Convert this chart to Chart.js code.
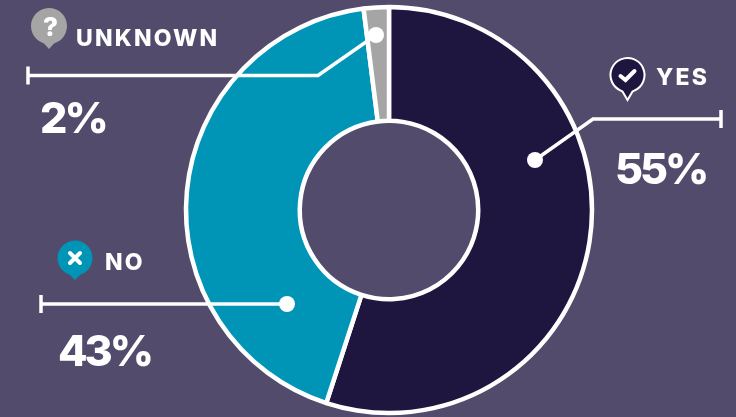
<!DOCTYPE html>
<html>
<head>
<meta charset="utf-8">
<title>Yes / No / Unknown</title>
<script src="https://cdn.jsdelivr.net/npm/chart.js@4"></script>
<style>
    html, body { margin: 0; padding: 0; background: #524b6b; }
    #wrap { width: 736px; height: 417px; }
</style>
</head>
<body>
<div id="wrap"><canvas id="answersChart"></canvas></div>
<script>
const categories = ['YES', 'NO', 'UNKNOWN'];
const shares = [55, 43, 2];
const sliceColors = ['#1e163f', '#0095b6', '#a5a5a5'];

const FONT = 'Inter, "Open Sans", sans-serif';
const WHITE = '#ffffff';

// callout layout, one per category
const callouts = [
    {
        path: [[535, 160], [593, 119], [721, 119]], tickX: 721, tickY: 119,
        icon: { x: 627.5, y: 75, r: 17, tail: 100, fill: '#1e163f', stroke: WHITE, glyph: 'check' },
        name: { x: 656, y: 85 }, pct: { x: 615, y: 184 }
    },
    {
        path: [[287, 304], [41, 304]], tickX: 41, tickY: 304,
        icon: { x: 75, y: 258, r: 17.5, tail: 280, fill: '#0095b6', glyph: 'cross' },
        name: { x: 105, y: 270 }, pct: { x: 58, y: 366 }
    },
    {
        path: [[376, 35], [318, 75.5], [28, 75.5]], tickX: 28, tickY: 75.5,
        icon: { x: 49, y: 26, r: 18, tail: 49, fill: '#a5a5a5', glyph: 'question' },
        name: { x: 76, y: 46 }, pct: { x: 40, y: 133 }
    }
];

function drawBubble(c, icon) {
    c.beginPath();
    c.arc(icon.x, icon.y, icon.r, Math.PI * 0.62, Math.PI * 0.38);
    c.lineTo(icon.x + 5, icon.y + icon.r - 0.5);
    c.lineTo(icon.x, icon.tail);
    c.lineTo(icon.x - 5, icon.y + icon.r - 0.5);
    c.closePath();
    c.fillStyle = icon.fill;
    c.fill();
    if (icon.stroke) {
        c.strokeStyle = icon.stroke;
        c.lineWidth = 2;
        c.stroke();
    }
}

function drawGlyph(c, icon) {
    const x = icon.x, y = icon.y;
    c.strokeStyle = WHITE;
    c.fillStyle = WHITE;
    c.lineWidth = 4;
    c.lineCap = 'round';
    c.lineJoin = 'miter';
    c.beginPath();
    if (icon.glyph === 'check') {
        c.moveTo(x - 7, y + 1);
        c.lineTo(x - 2, y + 5);
        c.lineTo(x + 7, y - 4);
        c.stroke();
    } else if (icon.glyph === 'cross') {
        c.moveTo(x - 5, y - 5);
        c.lineTo(x + 5, y + 5);
        c.moveTo(x + 5, y - 5);
        c.lineTo(x - 5, y + 5);
        c.stroke();
    } else {
        c.font = '800 26px ' + FONT;
        c.textAlign = 'center';
        c.textBaseline = 'alphabetic';
        c.fillText('?', x, y + 10);
    }
    c.lineCap = 'butt';
}

// leader lines, dots, bubbles and text sit on top of the doughnut
const calloutPlugin = {
    id: 'callouts',
    afterDatasetsDraw(chart) {
        const c = chart.ctx;
        c.save();
        callouts.forEach((item, i) => {
            c.strokeStyle = WHITE;
            c.lineWidth = 3.5;
            c.beginPath();
            item.path.forEach((p, n) => n ? c.lineTo(p[0], p[1]) : c.moveTo(p[0], p[1]));
            c.stroke();

            c.beginPath();
            c.moveTo(item.tickX, item.tickY - 9);
            c.lineTo(item.tickX, item.tickY + 9);
            c.stroke();

            c.fillStyle = WHITE;
            c.beginPath();
            c.arc(item.path[0][0], item.path[0][1], 8, 0, Math.PI * 2);
            c.fill();

            drawBubble(c, item.icon);
            drawGlyph(c, item.icon);

            c.fillStyle = WHITE;
            c.textAlign = 'left';
            c.textBaseline = 'alphabetic';
            c.font = '800 23px ' + FONT;
            c.letterSpacing = '2.2px';
            c.fillText(categories[i], item.name.x, item.name.y);
            c.font = '800 43px ' + FONT;
            c.letterSpacing = '-3px';
            c.fillText(shares[i] + '%', item.pct.x, item.pct.y);
        });
        c.restore();
    }
};

new Chart(document.getElementById('answersChart'), {
    type: 'doughnut',
    data: {
        labels: categories,
        datasets: [{
            data: shares,
            backgroundColor: sliceColors,
            borderColor: WHITE,
            borderWidth: 4.5,
            hoverOffset: 0
        }]
    },
    options: {
        responsive: true,
        maintainAspectRatio: false,
        animation: false,
        radius: 203,
        cutout: 90,
        layout: { padding: { left: 42, top: 3 } },
        plugins: {
            legend: { display: false },
            tooltip: { enabled: false }
        }
    },
    plugins: [calloutPlugin]
});
</script>
</body>
</html>
